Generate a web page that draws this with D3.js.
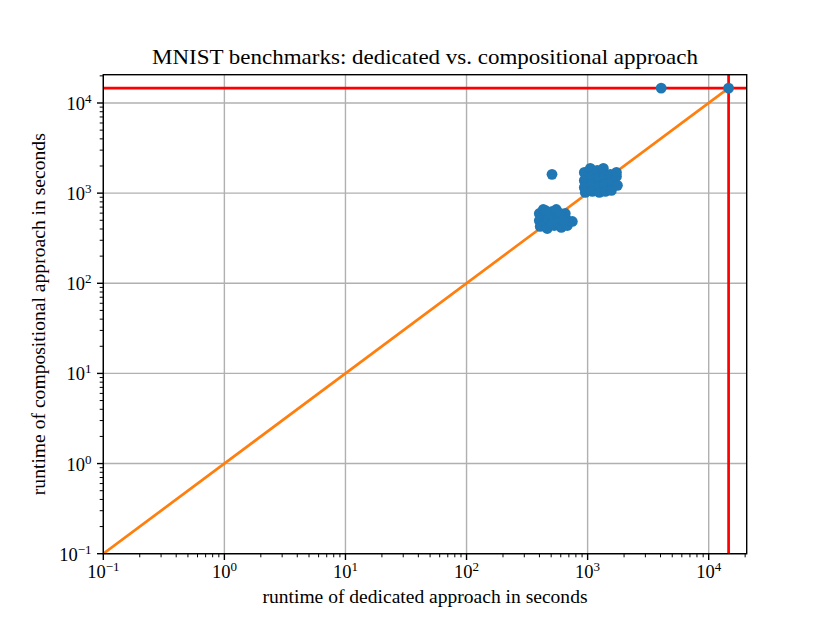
<!DOCTYPE html>
<html><head><meta charset="utf-8">
<script src="https://cdn.jsdelivr.net/npm/d3@7/dist/d3.min.js"></script>
<style>body{margin:0;background:#fff;} svg{display:block;}</style>
</head><body>
<svg id="chart" width="830" height="623"></svg>
<script>
// ---- data ----
const titleText = "MNIST benchmarks: dedicated vs. compositional approach";
const xLabelText = "runtime of dedicated approach in seconds";
const yLabelText = "runtime of compositional approach in seconds";
const axisDomain = [0.1, 20600];
const tickExponents = [-1, 0, 1, 2, 3, 4];
const timeoutValue = 14600;
const identityLine = [0.1, 14600];
const dedicatedTimes = [
  399, 399, 406, 430, 447, 456, 464, 511, 520, 530, 551, 573, 583, 606, 654, 667, 680, 748, 473, 594, 511, 447, 630,
  939, 939, 939, 957, 1053, 1074, 1074, 1094, 1203, 1227, 1227, 1250, 1349, 1375, 1375, 1402, 1542, 1572, 1572, 1730, 1763, 1730,
  508, 4050, 14600
];
const compositionalTimes = [
  595, 497, 427, 659, 551, 473, 405, 627, 524, 437, 659, 551, 473, 416, 595, 511, 437, 485, 511, 595, 461, 643, 497,
  1698, 1385, 1157, 1018, 1881, 1534, 1251, 1045, 1786, 1457, 1187, 1018, 1881, 1534, 1251, 1045, 1614, 1316, 1072, 1534, 1220, 1698,
  1615, 14600, 14600
];

// ---- layout ----
const svg = d3.select("#chart");
const L = 103.3, R = 746.7, T = 74.7, B = 553.7;
const font = "'Liberation Serif', 'DejaVu Serif', serif";
const x = d3.scaleLog().domain(axisDomain).range([L, R]);
const y = d3.scaleLog().domain(axisDomain).range([B, T]);

const g = svg.append("g");
// grid
const gridColor = "#b0b0b0";
tickExponents.forEach(e => {
  const v = Math.pow(10, e);
  g.append("line").attr("x1", x(v)).attr("x2", x(v)).attr("y1", T).attr("y2", B)
    .attr("stroke", gridColor).attr("stroke-width", 1.4);
  g.append("line").attr("y1", y(v)).attr("y2", y(v)).attr("x1", L).attr("x2", R)
    .attr("stroke", gridColor).attr("stroke-width", 1.4);
});

const plot = svg.append("g").attr("clip-path", "url(#clip)");
svg.append("clipPath").attr("id", "clip").append("rect")
  .attr("x", L).attr("y", T).attr("width", R - L).attr("height", B - T);

// identity line
plot.append("line")
  .attr("x1", x(identityLine[0])).attr("y1", y(identityLine[0]))
  .attr("x2", x(identityLine[1])).attr("y2", y(identityLine[1]))
  .attr("stroke", "#ff7f0e").attr("stroke-width", 2.7);
// timeout lines
plot.append("line").attr("x1", L).attr("x2", R).attr("y1", y(timeoutValue)).attr("y2", y(timeoutValue))
  .attr("stroke", "#ff0000").attr("stroke-width", 2.7);
plot.append("line").attr("y1", T).attr("y2", B).attr("x1", x(timeoutValue)).attr("x2", x(timeoutValue))
  .attr("stroke", "#ff0000").attr("stroke-width", 2.7);

// scatter
plot.selectAll("circle.pt").data(dedicatedTimes.map((d, i) => [d, compositionalTimes[i]]))
  .enter().append("circle")
  .attr("cx", d => x(d[0])).attr("cy", d => y(d[1])).attr("r", 5.4)
  .attr("fill", "#1f77b4");

// spines
svg.append("rect").attr("x", L).attr("y", T).attr("width", R - L).attr("height", B - T)
  .attr("fill", "none").attr("stroke", "#000").attr("stroke-width", 1.4);

// ticks
const minorVals = [];
for (let e = -1; e <= 4; e++) for (let m = 2; m <= 9; m++) {
  const v = m * Math.pow(10, e);
  if (v <= axisDomain[1]) minorVals.push(v);
}
minorVals.forEach(v => {
  svg.append("line").attr("x1", x(v)).attr("x2", x(v)).attr("y1", B).attr("y2", B + 3.6)
    .attr("stroke", "#000").attr("stroke-width", 1.0);
  svg.append("line").attr("y1", y(v)).attr("y2", y(v)).attr("x1", L).attr("x2", L - 3.6)
    .attr("stroke", "#000").attr("stroke-width", 1.0);
});
tickExponents.forEach(e => {
  const v = Math.pow(10, e);
  svg.append("line").attr("x1", x(v)).attr("x2", x(v)).attr("y1", B).attr("y2", B + 6.3)
    .attr("stroke", "#000").attr("stroke-width", 1.4);
  svg.append("line").attr("y1", y(v)).attr("y2", y(v)).attr("x1", L).attr("x2", L - 6.3)
    .attr("stroke", "#000").attr("stroke-width", 1.4);
  const sup = e < 0 ? "\u2212" + Math.abs(e) : String(e);
  // x label
  const tx = svg.append("text").attr("x", x(v)).attr("y", 578).attr("text-anchor", "middle")
    .attr("font-family", font).attr("font-size", 18.5);
  tx.append("tspan").text("10");
  tx.append("tspan").attr("font-size", 13).attr("dy", -7).text(sup);
  // y label
  const ty = svg.append("text").attr("x", 91.5).attr("y", y(v) + 7).attr("text-anchor", "end")
    .attr("font-family", font).attr("font-size", 18.5);
  ty.append("tspan").text("10");
  ty.append("tspan").attr("font-size", 13).attr("dy", -7).text(sup);
});

// labels
svg.append("text").attr("x", (L + R) / 2).attr("y", 64).attr("text-anchor", "middle")
  .attr("font-family", font).attr("font-size", 21.7)
  .attr("textLength", 546).attr("lengthAdjust", "spacingAndGlyphs").text(titleText);
svg.append("text").attr("x", (L + R) / 2).attr("y", 603).attr("text-anchor", "middle")
  .attr("font-family", font).attr("font-size", 18)
  .attr("textLength", 325).attr("lengthAdjust", "spacingAndGlyphs").text(xLabelText);
svg.append("text").attr("transform", `translate(45,${(T + B) / 2}) rotate(-90)`).attr("text-anchor", "middle")
  .attr("font-family", font).attr("font-size", 18)
  .attr("textLength", 362).attr("lengthAdjust", "spacingAndGlyphs").text(yLabelText);
</script>
</body></html>
